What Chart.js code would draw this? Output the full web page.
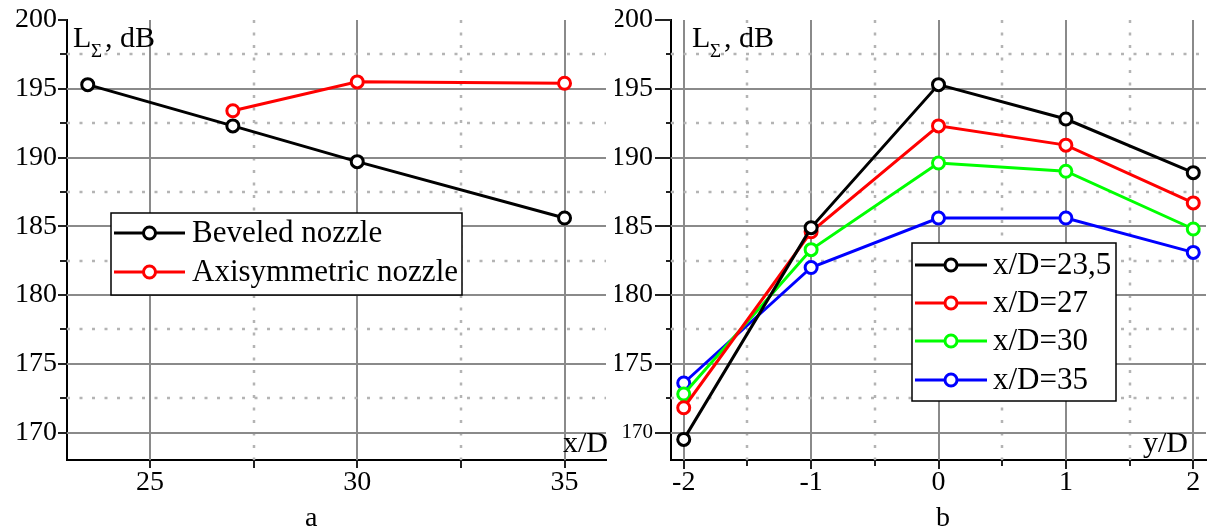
<!DOCTYPE html>
<html><head><meta charset="utf-8">
<script src="https://cdn.jsdelivr.net/npm/chart.js@4/dist/chart.umd.min.js"></script>
<style>
html,body{margin:0;padding:0;background:#fff;}
#wrap{position:relative;width:1215px;height:531px;overflow:hidden;}
canvas{position:absolute;top:0;}
.t{position:absolute;font-family:"Liberation Serif",serif;color:#000;white-space:nowrap;line-height:1;}
</style></head><body>
<div id="wrap">
<canvas id="c1" width="615" height="531" style="left:0"></canvas>
<canvas id="c2" width="600" height="531" style="left:615px"></canvas>
<span class="t" style="left:73px;top:22px;font-size:30px">L</span>
<span class="t" style="left:91px;top:41px;font-size:19px">Σ</span>
<span class="t" style="left:105px;top:22px;font-size:30px">, dB</span>
<span class="t" style="left:692px;top:22px;font-size:30px">L</span>
<span class="t" style="left:710px;top:41px;font-size:19px">Σ</span>
<span class="t" style="left:724px;top:22px;font-size:30px">, dB</span>
<span class="t" style="left:563px;top:427px;font-size:30px">x/D</span>
<span class="t" style="left:1143px;top:427px;font-size:30px">y/D</span>
<span class="t" style="left:305px;top:503px;font-size:28px">a</span>
<span class="t" style="left:936px;top:503px;font-size:28px">b</span>
</div>
<script>
// ---- data ----
const bevelX = [23.5, 27, 30, 35];
const bevelY = [195.3, 192.3, 189.7, 185.6];
const axisymX = [27, 30, 35];
const axisymY = [193.4, 195.5, 195.4];

const yPos = [-2, -1, 0, 1, 2];
const L23_5 = [169.5, 184.9, 195.3, 192.8, 188.9];
const L27 = [171.8, 184.6, 192.3, 190.9, 186.7];
const L30 = [172.8, 183.3, 189.6, 189.0, 184.8];
const L35 = [173.6, 182.0, 185.6, 185.6, 183.1];

const yTicks = [170, 172.5, 175, 177.5, 180, 182.5, 185, 187.5, 190, 192.5, 195, 197.5, 200];
const yLabelTicks = [170, 175, 180, 185, 190, 195, 200];
const xTicksA = [25, 27.5, 30, 32.5, 35];
const xLabelTicksA = [25, 30, 35];
const xTicksB = [-2, -1.5, -1, -0.5, 0, 0.5, 1, 1.5, 2];
const xLabelTicksB = [-2, -1, 0, 1, 2];

const FONT = '"Liberation Serif", "Times New Roman", serif';

function pts(xs, ys){ return xs.map((x,i)=>({x:x, y:ys[i]})); }
function ds(label, xs, ys, color){
  return {label, data: pts(xs, ys), borderColor: color, backgroundColor:'#fff',
    pointBackgroundColor:'#fff', pointBorderColor: color, pointRadius:6, pointBorderWidth:3,
    borderWidth:3, tension:0, fill:false};
}
function zeroPad(s){ s.paddingTop=0; s.paddingBottom=0; s.paddingLeft=0; s.paddingRight=0; }

const gridMarks = {
  id:'gridMarks',
  beforeDatasetsDraw(chart, args, o){
    const {ctx, chartArea:a, scales:{x, y}} = chart;
    ctx.save();
    ctx.beginPath(); ctx.rect(a.left, a.top, a.right-a.left, a.bottom-a.top); ctx.clip();
    function line(x0,y0,x1,y1,major){
      ctx.beginPath();
      if(major){ ctx.setLineDash([]); ctx.strokeStyle='#8a8a8a'; ctx.lineWidth=2; }
      else { ctx.setLineDash([3,9.5]); ctx.strokeStyle='#b4b4b4'; ctx.lineWidth=2.5; }
      ctx.moveTo(x0,y0); ctx.lineTo(x1,y1); ctx.stroke();
    }
    x.ticks.forEach(t=>{ const px = Math.round(x.getPixelForValue(t.value)); line(px, a.top, px, a.bottom, o.xMajor.includes(t.value)); });
    y.ticks.forEach(t=>{ if(t.value>=y.max) return; const py = Math.round(y.getPixelForValue(t.value)); line(a.left, py, a.right, py, yLabelTicks.includes(t.value)); });
    ctx.restore();
  },
  afterDraw(chart, args, o){
    const {ctx, chartArea:a, scales:{x, y}} = chart;
    ctx.save();
    ctx.strokeStyle='#222'; ctx.lineWidth=2; ctx.setLineDash([]);
    x.ticks.forEach(t=>{ const px = Math.round(x.getPixelForValue(t.value)); const len = o.xMajor.includes(t.value)? o.xMajLen : o.xMinLen;
      ctx.beginPath(); ctx.moveTo(px, a.bottom); ctx.lineTo(px, a.bottom+len); ctx.stroke(); });
    y.ticks.forEach(t=>{ const py = Math.round(y.getPixelForValue(t.value)); const len = yLabelTicks.includes(t.value)? o.yMajLen : o.yMinLen;
      ctx.beginPath(); ctx.moveTo(a.left, py); ctx.lineTo(a.left-len, py); ctx.stroke(); });
    ctx.restore();
  }
};

const boxLegend = {
  id:'boxLegend',
  afterDatasetsDraw(chart, args, o){
    const ctx = chart.ctx;
    ctx.save();
    ctx.fillStyle='#fff'; ctx.fillRect(o.x, o.y, o.w, o.h);
    ctx.strokeStyle='#000'; ctx.lineWidth=1.5; ctx.strokeRect(o.x, o.y, o.w, o.h);
    chart.data.datasets.forEach((d,i)=>{
      const ry = o.rows[i];
      ctx.strokeStyle = d.borderColor; ctx.lineWidth = 3;
      ctx.beginPath(); ctx.moveTo(o.l0, ry); ctx.lineTo(o.l1, ry); ctx.stroke();
      ctx.beginPath(); ctx.arc((o.l0+o.l1)/2, ry, 6, 0, Math.PI*2);
      ctx.fillStyle='#fff'; ctx.fill(); ctx.lineWidth=3; ctx.stroke();
      ctx.fillStyle='#000'; ctx.font = o.size + 'px ' + FONT; ctx.textBaseline='middle'; ctx.textAlign='left';
      ctx.fillText(d.label, o.tx, ry+1);
    });
    ctx.restore();
  }
};

function makeChart(id, datasets, xmin, xmax, xTicks, xLabels, yWidth, padRight, legendOpts, tickOpts, smallBottom){
  return new Chart(document.getElementById(id), {
    type:'line',
    data:{datasets},
    plugins:[gridMarks, boxLegend],
    options:{
      responsive:false, animation:false, events:[],
      layout:{padding:{top:20, right:padRight, left:0, bottom:0}},
      plugins:{legend:{display:false}, tooltip:{enabled:false},
        boxLegend: legendOpts, gridMarks: Object.assign({xMajor:xLabels}, tickOpts)},
      scales:{
        x:{type:'linear', min:xmin, max:xmax,
          afterBuildTicks: s=>{ s.ticks = xTicks.map(v=>({value:v})); },
          afterFit: s=>{ s.height = 71; zeroPad(s); },
          grid:{drawOnChartArea:false, drawTicks:false},
          border:{color:'#000', width:2},
          ticks:{padding:6, color:'#000', font:{family:FONT, size:28}, maxRotation:0, autoSkip:false,
            callback:(v)=> xLabels.includes(v) ? String(v) : ''}},
        y:{type:'linear', min:168, max:200,
          afterBuildTicks: s=>{ s.ticks = yTicks.map(v=>({value:v})); },
          afterFit: s=>{ s.width = yWidth; zeroPad(s); },
          grid:{drawOnChartArea:false, drawTicks:false},
          border:{color:'#000', width:2},
          ticks:{padding: tickOpts.yPad, color:'#000', autoSkip:false,
            font:(c)=> ({family:FONT, size: (smallBottom && c.tick && c.tick.value===170) ? 21 : 28}),
            callback:(v)=> yLabelTicks.includes(v) ? String(v) : ''}}
      }
    }
  });
}

function draw(){
  makeChart('c1',
    [ds('Beveled nozzle', bevelX, bevelY, '#000000'), ds('Axisymmetric nozzle', axisymX, axisymY, '#ff0000')],
    23, 36, xTicksA, xLabelTicksA, 67, 3,
    {x:111, y:213, w:351, h:82, rows:[233, 272], l0:114, l1:185, tx:192, size:31},
    {xMajLen:8, xMinLen:8, yMajLen:9, yMinLen:7, yPad:10}, false);

  makeChart('c2',
    [ds('x/D=23,5', yPos, L23_5, '#000000'), ds('x/D=27', yPos, L27, '#ff0000'),
     ds('x/D=30', yPos, L30, '#00ff00'), ds('x/D=35', yPos, L35, '#0000ff')],
    -2.1, 2.1, xTicksB, xLabelTicksB, 56, 2,
    {x:297, y:243, w:204, h:158, rows:[265, 303, 341, 380], l0:300, l1:372, tx:378, size:31},
    {xMajLen:9, xMinLen:6, yMajLen:16, yMinLen:5, yPad:18}, true);
}
Chart.defaults.font.family = FONT;
Promise.all([
  document.fonts.load('28px "Liberation Serif"'),
  document.fonts.load('31px "Liberation Serif"')
]).then(draw, draw);
</script>
</body></html>
